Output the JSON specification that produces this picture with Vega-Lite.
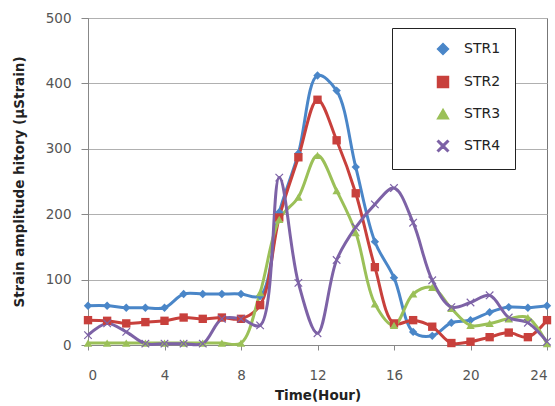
{
  "$schema": "https://vega.github.io/schema/vega-lite/v6.json",
  "width": 459,
  "height": 327,
  "autosize": {"type": "none"},
  "padding": {"left": 88, "top": 18, "right": 8, "bottom": 61},
  "background": "white",
  "config": {
    "view": {"stroke": "#777", "strokeWidth": 1},
    "font": "DejaVu Sans"
  },
  "data": {
    "values": [
      {"hour":0,"series":"STR1","value":60},{"hour":1,"series":"STR1","value":60},{"hour":2,"series":"STR1","value":57},{"hour":3,"series":"STR1","value":57},{"hour":4,"series":"STR1","value":57},{"hour":5,"series":"STR1","value":78},{"hour":6,"series":"STR1","value":78},{"hour":7,"series":"STR1","value":78},{"hour":8,"series":"STR1","value":78},{"hour":9,"series":"STR1","value":75},{"hour":10,"series":"STR1","value":203},{"hour":11,"series":"STR1","value":293},{"hour":12,"series":"STR1","value":412},{"hour":13,"series":"STR1","value":389},{"hour":14,"series":"STR1","value":272},{"hour":15,"series":"STR1","value":158},{"hour":16,"series":"STR1","value":103},{"hour":17,"series":"STR1","value":20},{"hour":18,"series":"STR1","value":14},{"hour":19,"series":"STR1","value":34},{"hour":20,"series":"STR1","value":38},{"hour":21,"series":"STR1","value":50},{"hour":22,"series":"STR1","value":58},{"hour":23,"series":"STR1","value":57},{"hour":24,"series":"STR1","value":60},
      {"hour":0,"series":"STR2","value":38},{"hour":1,"series":"STR2","value":37},{"hour":2,"series":"STR2","value":33},{"hour":3,"series":"STR2","value":35},{"hour":4,"series":"STR2","value":37},{"hour":5,"series":"STR2","value":42},{"hour":6,"series":"STR2","value":40},{"hour":7,"series":"STR2","value":42},{"hour":8,"series":"STR2","value":40},{"hour":9,"series":"STR2","value":61},{"hour":10,"series":"STR2","value":195},{"hour":11,"series":"STR2","value":287},{"hour":12,"series":"STR2","value":375},{"hour":13,"series":"STR2","value":313},{"hour":14,"series":"STR2","value":232},{"hour":15,"series":"STR2","value":119},{"hour":16,"series":"STR2","value":33},{"hour":17,"series":"STR2","value":38},{"hour":18,"series":"STR2","value":28},{"hour":19,"series":"STR2","value":3},{"hour":20,"series":"STR2","value":5},{"hour":21,"series":"STR2","value":12},{"hour":22,"series":"STR2","value":19},{"hour":23,"series":"STR2","value":12},{"hour":24,"series":"STR2","value":38},
      {"hour":0,"series":"STR3","value":3},{"hour":1,"series":"STR3","value":3},{"hour":2,"series":"STR3","value":3},{"hour":3,"series":"STR3","value":3},{"hour":4,"series":"STR3","value":3},{"hour":5,"series":"STR3","value":3},{"hour":6,"series":"STR3","value":3},{"hour":7,"series":"STR3","value":3},{"hour":8,"series":"STR3","value":3},{"hour":9,"series":"STR3","value":80},{"hour":10,"series":"STR3","value":192},{"hour":11,"series":"STR3","value":226},{"hour":12,"series":"STR3","value":290},{"hour":13,"series":"STR3","value":236},{"hour":14,"series":"STR3","value":172},{"hour":15,"series":"STR3","value":63},{"hour":16,"series":"STR3","value":30},{"hour":17,"series":"STR3","value":78},{"hour":18,"series":"STR3","value":88},{"hour":19,"series":"STR3","value":56},{"hour":20,"series":"STR3","value":30},{"hour":21,"series":"STR3","value":33},{"hour":22,"series":"STR3","value":40},{"hour":23,"series":"STR3","value":42},{"hour":24,"series":"STR3","value":2},
      {"hour":0,"series":"STR4","value":15},{"hour":1,"series":"STR4","value":33},{"hour":2,"series":"STR4","value":20},{"hour":3,"series":"STR4","value":2},{"hour":4,"series":"STR4","value":2},{"hour":5,"series":"STR4","value":2},{"hour":6,"series":"STR4","value":2},{"hour":7,"series":"STR4","value":40},{"hour":8,"series":"STR4","value":40},{"hour":9,"series":"STR4","value":30},{"hour":10,"series":"STR4","value":256},{"hour":11,"series":"STR4","value":95},{"hour":12,"series":"STR4","value":18},{"hour":13,"series":"STR4","value":130},{"hour":14,"series":"STR4","value":180},{"hour":15,"series":"STR4","value":215},{"hour":16,"series":"STR4","value":240},{"hour":17,"series":"STR4","value":187},{"hour":18,"series":"STR4","value":99},{"hour":19,"series":"STR4","value":58},{"hour":20,"series":"STR4","value":65},{"hour":21,"series":"STR4","value":76},{"hour":22,"series":"STR4","value":42},{"hour":23,"series":"STR4","value":34},{"hour":24,"series":"STR4","value":5}
    ]
  },
  "encoding": {
    "x": {
      "field": "hour", "type": "quantitative",
      "scale": {"domain": [0, 24], "nice": false},
      "axis": {
        "values": [0, 4, 8, 12, 16, 20, 24],
        "title": "Time(Hour)",
        "titleFont": "DejaVu Sans", "titleFontSize": 13.5, "titleFontWeight": "bold", "titleColor": "#222",
        "titlePadding": 7,
        "labelFont": "DejaVu Sans", "labelFontSize": 13.5, "labelColor": "#555", "labelPadding": 18,
        "grid": false, "domainColor": "#888", "tickColor": "#888", "tickSize": 5
      }
    },
    "y": {
      "field": "value", "type": "quantitative",
      "scale": {"domain": [0, 500], "nice": false},
      "axis": {
        "values": [0, 100, 200, 300, 400, 500],
        "title": "Strain amplitude hitory (µStrain)",
        "titleFont": "DejaVu Sans", "titleFontSize": 13.5, "titleFontWeight": "bold", "titleColor": "#222",
        "titlePadding": 19,
        "labelFont": "DejaVu Sans", "labelFontSize": 13.5, "labelColor": "#555", "labelPadding": 10,
        "grid": true, "gridColor": "#b0b0b0", "domainColor": "#888", "tickColor": "#888", "tickSize": 7
      }
    }
  },
  "layer": [
    {
      "mark": {"type": "line", "interpolate": "catmull-rom", "strokeWidth": 3},
      "encoding": {
        "color": {
          "field": "series", "type": "nominal",
          "scale": {"domain": ["STR1", "STR2", "STR3", "STR4"], "range": ["#4A86C8", "#C8403C", "#9BC058", "#7D62A6"]}
        }
      }
    },
    {
      "mark": {"type": "point", "filled": true, "opacity": 1, "size": 70},
      "encoding": {
        "color": {
          "field": "series", "type": "nominal",
          "scale": {"domain": ["STR1", "STR2", "STR3", "STR4"], "range": ["#4A86C8", "#C8403C", "#9BC058", "#7D62A6"]}
        },
        "shape": {
          "field": "series", "type": "nominal",
          "scale": {"domain": ["STR1", "STR2", "STR3", "STR4"], "range": ["diamond", "square", "triangle-up", "M-1,-0.8L-0.8,-1L0,-0.2L0.8,-1L1,-0.8L0.2,0L1,0.8L0.8,1L0,0.2L-0.8,1L-1,0.8L-0.2,0Z"]},
          "legend": {
            "orient": "none", "legendX": 304, "legendY": 10,
            "title": null,
            "strokeColor": "#222", "fillColor": "white",
            "padding": 14, "rowPadding": 15,
            "labelFont": "DejaVu Sans", "labelFontSize": 14, "labelColor": "#222",
            "symbolSize": 120, "labelOffset": 14, "symbolOffset": 30,
            "labelExpr": "datum.label + '      '",
            "symbolOpacity": 1,
            "offset": 0
          }
        }
      }
    }
  ],
  "resolve": {"legend": {"color": "shared", "shape": "shared"}}
}
